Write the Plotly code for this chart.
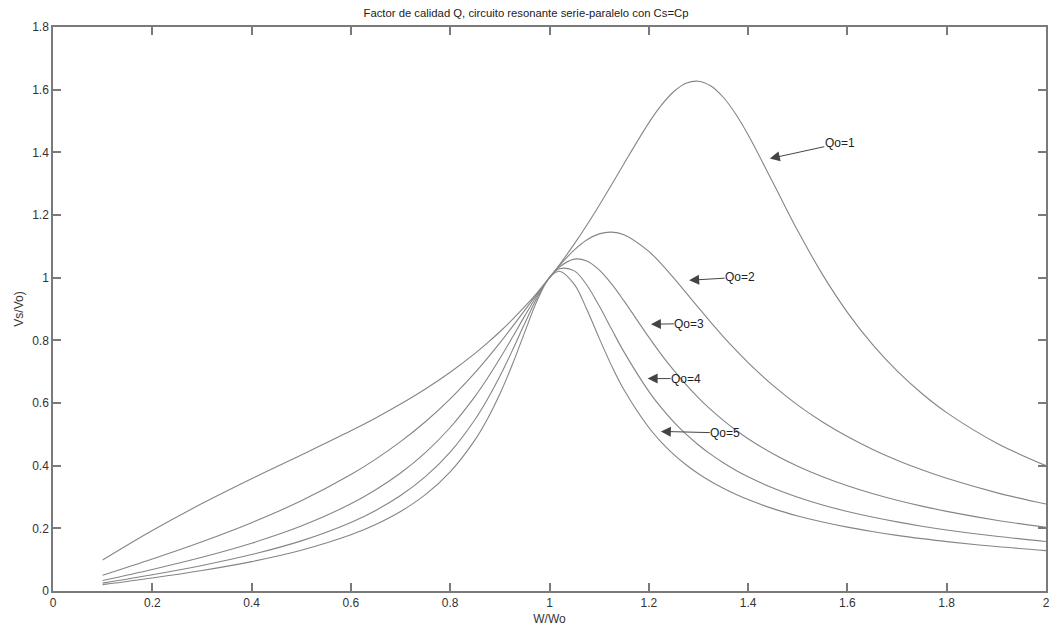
import plotly.graph_objects as go

# Normalised frequency W/Wo
w = [0.1, 0.2, 0.3, 0.4, 0.5, 0.6, 0.65, 0.7, 0.75, 0.8, 0.85, 0.875, 0.9, 0.925,
     0.95, 0.975, 1.0, 1.02, 1.05, 1.075, 1.1, 1.125, 1.15, 1.2, 1.225, 1.25,
     1.275, 1.3, 1.325, 1.35, 1.375, 1.4, 1.45, 1.5, 1.55, 1.6, 1.65, 1.7, 1.75,
     1.8, 1.9, 2.0]

# Voltage gain Vs/Vo for each quality factor
gain_q1 = [0.0990, 0.1929, 0.2790, 0.3582, 0.4339, 0.5111, 0.5523, 0.5965, 0.6446,
           0.6981, 0.7584, 0.7917, 0.8274, 0.8658, 0.9072, 0.9518, 1.0, 1.0412,
           1.1077, 1.1673, 1.2304, 1.2963, 1.3638, 1.4940, 1.5497, 1.5933, 1.6202,
           1.6269, 1.6118, 1.5758, 1.5223, 1.4559, 1.3034, 1.1494, 1.0098, 0.8894,
           0.7877, 0.7022, 0.6302, 0.5692, 0.4725, 0.4000]
gain_q2 = [0.0503, 0.1021, 0.1572, 0.2181, 0.2879, 0.3716, 0.4209, 0.4766, 0.5401,
           0.6132, 0.6970, 0.7432, 0.7920, 0.8430, 0.8956, 0.9485, 1.0, 1.0386,
           1.0887, 1.1203, 1.1397, 1.1453, 1.1370, 1.0838, 1.0440, 0.9993, 0.9521,
           0.9043, 0.8573, 0.8121, 0.7692, 0.7289, 0.6561, 0.5934, 0.5394, 0.4929,
           0.4526, 0.4175, 0.3868, 0.3596, 0.3140, 0.2774]
gain_q3 = [0.0336, 0.0688, 0.1076, 0.1524, 0.2071, 0.2781, 0.3229, 0.3764, 0.4416,
           0.5218, 0.6212, 0.6789, 0.7418, 0.8088, 0.8773, 0.9431, 1.0, 1.0342,
           1.0592, 1.0532, 1.0248, 0.9801, 0.9258, 0.8102, 0.7554, 0.7047, 0.6584,
           0.6165, 0.5786, 0.5446, 0.5138, 0.4860, 0.4380, 0.3980, 0.3644, 0.3358,
           0.3111, 0.2897, 0.2709, 0.2542, 0.2260, 0.2031]
gain_q4 = [0.0252, 0.0518, 0.0814, 0.1163, 0.1600, 0.2188, 0.2572, 0.3047, 0.3649,
           0.4433, 0.5474, 0.6118, 0.6853, 0.7671, 0.8534, 0.9357, 1.0, 1.0282,
           1.0217, 0.9767, 0.9101, 0.8359, 0.7631, 0.6370, 0.5850, 0.5398, 0.5005,
           0.4661, 0.4359, 0.4093, 0.3856, 0.3646, 0.3286, 0.2992, 0.2746, 0.2538,
           0.2360, 0.2205, 0.2069, 0.1949, 0.1747, 0.1581]
gain_q5 = [0.0202, 0.0415, 0.0654, 0.0938, 0.1299, 0.1792, 0.2121, 0.2536, 0.3075,
           0.3804, 0.4824, 0.5490, 0.6287, 0.7219, 0.8254, 0.9264, 1.0, 1.0206,
           0.9788, 0.8992, 0.8071, 0.7193, 0.6422, 0.5217, 0.4754, 0.4363, 0.4029,
           0.3743, 0.3494, 0.3277, 0.3086, 0.2917, 0.2629, 0.2396, 0.2202, 0.2038,
           0.1898, 0.1776, 0.1670, 0.1576, 0.1418, 0.1288]

curves = [gain_q1, gain_q2, gain_q3, gain_q4, gain_q5]
labels = ["Qo=1", "Qo=2", "Qo=3", "Qo=4", "Qo=5"]

# Arrow targets on each curve (data coords) and text offsets (pixels)
arrow_x = [1.4437, 1.2812, 1.2042, 1.1976, 1.2243]
arrow_y = [1.380, 0.9917, 0.8513, 0.6779, 0.5094]
text_dx = [70, 51, 38.5, 38.5, 64.4]
text_dy = [-15.3, -3, -0.7, 0, 1.6]

line_color = "#858585"
axis_color = "#7a7a7a"
font = "Liberation Sans, Arial, sans-serif"

fig = go.Figure()
for name, g in zip(labels, curves):
    fig.add_trace(go.Scatter(
        x=w, y=g, mode="lines", name=name,
        line=dict(color=line_color, width=1.1, shape="spline", smoothing=1.0),
        showlegend=False, hoverinfo="x+y",
    ))

for lab, hx, hy, dx, dy in zip(labels, arrow_x, arrow_y, text_dx, text_dy):
    fig.add_annotation(
        x=hx, y=hy, xref="x", yref="y", text=lab,
        showarrow=True, ax=dx, ay=dy, axref="pixel", ayref="pixel",
        arrowhead=2, arrowsize=2.0, arrowwidth=1, arrowcolor="#444444",
        font=dict(family=font, size=12, color="#222222"),
        borderpad=0, standoff=0,
    )

fig.update_layout(
    width=1052, height=630,
    margin=dict(l=53, r=2, t=27, b=39),
    paper_bgcolor="white", plot_bgcolor="white",
    font=dict(family=font, size=12, color="#333333"),
    title=dict(
        text="Factor de calidad Q, circuito resonante serie-paralelo con Cs=Cp",
        x=0.5, xanchor="center", y=0.985, yanchor="top",
        font=dict(family=font, size=11.3, color="#222222"),
    ),
)

fig.update_xaxes(
    range=[0, 2], dtick=0.2, tick0=0,
    showline=True, mirror="ticks", linecolor=axis_color, linewidth=1.5,
    ticks="inside", ticklen=8, tickcolor=axis_color, tickwidth=1.5,
    showgrid=False, zeroline=False,
    title=dict(text="W/Wo", standoff=5, font=dict(family=font, size=12)),
    tickfont=dict(family=font, size=12, color="#333333"),
)
fig.update_yaxes(
    range=[0, 1.8], dtick=0.2, tick0=0,
    showline=True, mirror="ticks", linecolor=axis_color, linewidth=1.5,
    ticks="inside", ticklen=8, tickcolor=axis_color, tickwidth=1.5,
    showgrid=False, zeroline=False,
    title=dict(text="Vs/Vo)", standoff=6, font=dict(family=font, size=12)),
    tickfont=dict(family=font, size=12, color="#333333"),
)

fig.write_html("out.html")
